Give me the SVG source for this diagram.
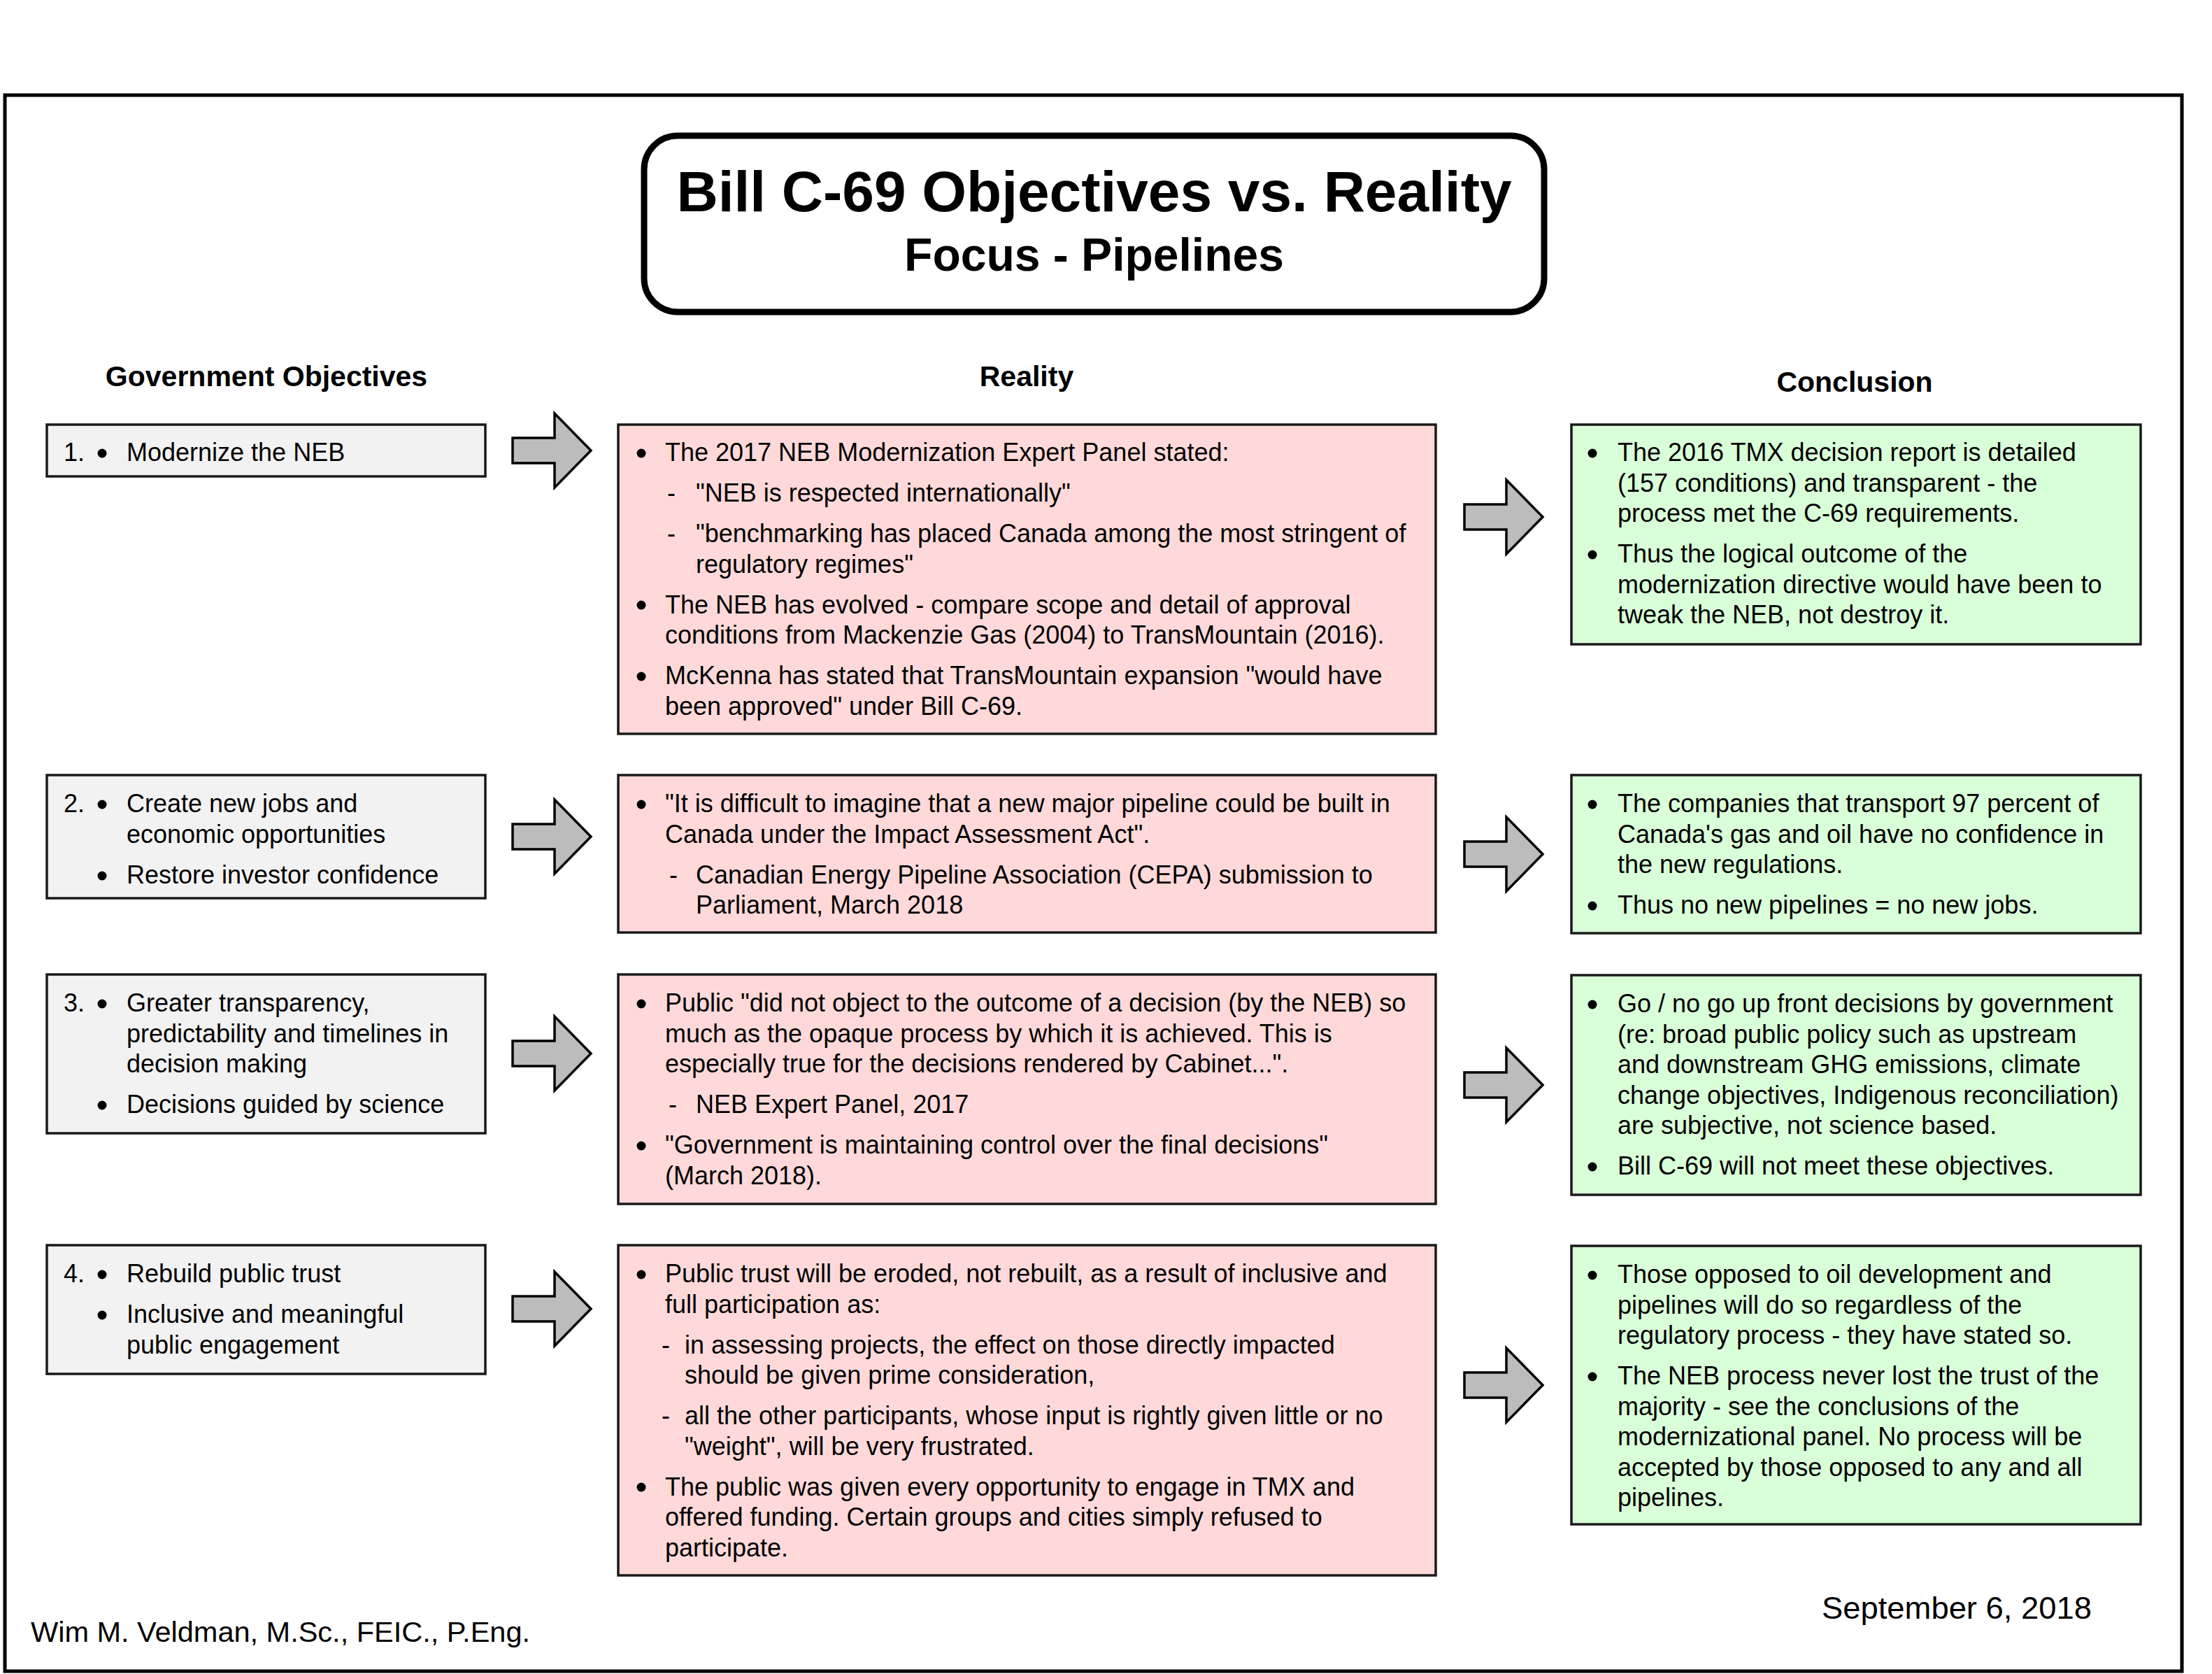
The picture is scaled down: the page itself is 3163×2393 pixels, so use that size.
<svg xmlns="http://www.w3.org/2000/svg" width="3163" height="2393" viewBox="0 0 3163 2393">
<style>
  text { font-family: "Liberation Sans", Arial, sans-serif; fill: #000; }
  .t { font-size: 36px; }
  .h { font-size: 41px; font-weight: bold; text-anchor: middle; }
  .obj { fill: #f2f2f2; stroke: #1a1a1a; stroke-width: 3.5; }
  .real { fill: #ffd9d9; stroke: #1a1a1a; stroke-width: 3.5; }
  .conc { fill: #d9ffd9; stroke: #1a1a1a; stroke-width: 3.5; }
  .arrow { fill: #bcbcbc; stroke: #000; stroke-width: 3.5; stroke-linejoin: miter; }
  .dot { fill: #000; }
</style>
<defs>
  <path id="arr" d="M0,-18 H60 V-53 L112,0 L60,53 V18 H0 Z"/>
</defs>
<rect width="3163" height="2393" fill="#fff"/>
<rect id="frame" x="7" y="136" width="3113" height="2253" fill="none" stroke="#000" stroke-width="5"/>

<g id="title">
  <rect x="921" y="194" width="1287" height="252" rx="48" ry="48" fill="#fff" stroke="#000" stroke-width="9"/>
  <text x="1564.5" y="302" font-size="82" font-weight="bold" text-anchor="middle">Bill C-69 Objectives vs. Reality</text>
  <text x="1564.5" y="387" font-size="66" font-weight="bold" text-anchor="middle">Focus - Pipelines</text>
</g>

<g id="headers">
  <text class="h" x="381" y="552">Government Objectives</text>
  <text class="h" x="1468" y="552">Reality</text>
  <text class="h" x="2652" y="560">Conclusion</text>
</g>

<g id="obj1">
  <rect class="obj" x="67" y="607" width="627" height="74"/>
  <g transform="translate(0,3)">
  <text class="t" x="91" y="656">1.</text>
  <circle class="dot" cx="146" cy="645" r="6.5"/>
  <text class="t" x="181" y="656">Modernize the NEB</text>
  </g>
</g>
<g id="obj2">
  <rect class="obj" x="67" y="1108" width="627" height="176"/>
  <g transform="translate(0,3)">
  <text class="t" x="91" y="1158">2.</text>
  <circle class="dot" cx="146" cy="1147" r="6.5"/>
  <text class="t" x="181" y="1158">Create new jobs and</text>
  <text class="t" x="181" y="1201.5">economic opportunities</text>
  <circle class="dot" cx="146" cy="1249" r="6.5"/>
  <text class="t" x="181" y="1259.5">Restore investor confidence</text>
  </g>
</g>
<g id="obj3">
  <rect class="obj" x="67" y="1393" width="627" height="227"/>
  <g transform="translate(0,3)">
  <text class="t" x="91" y="1443">3.</text>
  <circle class="dot" cx="146" cy="1432" r="6.5"/>
  <text class="t" x="181" y="1443">Greater transparency,</text>
  <text class="t" x="181" y="1486.5">predictability and timelines in</text>
  <text class="t" x="181" y="1530">decision making</text>
  <circle class="dot" cx="146" cy="1577" r="6.5"/>
  <text class="t" x="181" y="1588">Decisions guided by science</text>
  </g>
</g>
<g id="obj4">
  <rect class="obj" x="67" y="1780" width="627" height="184"/>
  <g transform="translate(0,3)">
  <text class="t" x="91" y="1830">4.</text>
  <circle class="dot" cx="146" cy="1819" r="6.5"/>
  <text class="t" x="181" y="1830">Rebuild public trust</text>
  <circle class="dot" cx="146" cy="1877" r="6.5"/>
  <text class="t" x="181" y="1888">Inclusive and meaningful</text>
  <text class="t" x="181" y="1931.5">public engagement</text>
  </g>
</g>

<g id="real1">
  <rect class="real" x="884" y="607" width="1169" height="442"/>
  <g transform="translate(0,3)">
  <circle class="dot" cx="917" cy="645" r="6.5"/>
  <text class="t" x="951" y="656">The 2017 NEB Modernization Expert Panel stated:</text>
  <text class="t" x="954" y="714">-</text>
  <text class="t" x="995" y="714">"NEB is respected internationally"</text>
  <text class="t" x="954" y="772">-</text>
  <text class="t" x="995" y="772">"benchmarking has placed Canada among the most stringent of</text>
  <text class="t" x="995" y="815.5">regulatory regimes"</text>
  <circle class="dot" cx="917" cy="862" r="6.5"/>
  <text class="t" x="951" y="873.5">The NEB has evolved - compare scope and detail of approval</text>
  <text class="t" x="951" y="917">conditions from Mackenzie Gas (2004) to TransMountain (2016).</text>
  <circle class="dot" cx="917" cy="964" r="6.5"/>
  <text class="t" x="951" y="975">McKenna has stated that TransMountain expansion "would have</text>
  <text class="t" x="951" y="1018.5">been approved" under Bill C-69.</text>
  </g>
</g>
<g id="real2">
  <rect class="real" x="884" y="1108" width="1169" height="225"/>
  <g transform="translate(0,3)">
  <circle class="dot" cx="917" cy="1147" r="6.5"/>
  <text class="t" x="951" y="1158">"It is difficult to imagine that a new major pipeline could be built in</text>
  <text class="t" x="951" y="1201.5">Canada under the Impact Assessment Act".</text>
  <text class="t" x="957" y="1259.5">-</text>
  <text class="t" x="995" y="1259.5">Canadian Energy Pipeline Association (CEPA) submission to</text>
  <text class="t" x="995" y="1303">Parliament, March 2018</text>
  </g>
</g>
<g id="real3">
  <rect class="real" x="884" y="1393" width="1169" height="328"/>
  <g transform="translate(0,3)">
  <circle class="dot" cx="917" cy="1432" r="6.5"/>
  <text class="t" x="951" y="1443">Public "did not object to the outcome of a decision (by the NEB) so</text>
  <text class="t" x="951" y="1486.5">much as the opaque process by which it is achieved. This is</text>
  <text class="t" x="951" y="1530">especially true for the decisions rendered by Cabinet...".</text>
  <text class="t" x="956" y="1588">-</text>
  <text class="t" x="995" y="1588">NEB Expert Panel, 2017</text>
  <circle class="dot" cx="917" cy="1635" r="6.5"/>
  <text class="t" x="951" y="1646">"Government is maintaining control over the final decisions"</text>
  <text class="t" x="951" y="1689.5">(March 2018).</text>
  </g>
</g>
<g id="real4">
  <rect class="real" x="884" y="1780" width="1169" height="472"/>
  <g transform="translate(0,3)">
  <circle class="dot" cx="917" cy="1819" r="6.5"/>
  <text class="t" x="951" y="1830">Public trust will be eroded, not rebuilt, as a result of inclusive and</text>
  <text class="t" x="951" y="1873.5">full participation as:</text>
  <text class="t" x="946" y="1931.5">-</text>
  <text class="t" x="979" y="1931.5">in assessing projects, the effect on those directly impacted</text>
  <text class="t" x="979" y="1975">should be given prime consideration,</text>
  <text class="t" x="946" y="2033">-</text>
  <text class="t" x="979" y="2033">all the other participants, whose input is rightly given little or no</text>
  <text class="t" x="979" y="2076.5">"weight", will be very frustrated.</text>
  <circle class="dot" cx="917" cy="2123" r="6.5"/>
  <text class="t" x="951" y="2134.5">The public was given every opportunity to engage in TMX and</text>
  <text class="t" x="951" y="2178">offered funding. Certain groups and cities simply refused to</text>
  <text class="t" x="951" y="2221.5">participate.</text>
  </g>
</g>

<g id="conc1">
  <rect class="conc" x="2247" y="607" width="814" height="314"/>
  <g transform="translate(0,3)">
  <circle class="dot" cx="2277" cy="645" r="6.5"/>
  <text class="t" x="2313" y="656">The 2016 TMX decision report is detailed</text>
  <text class="t" x="2313" y="699.5">(157 conditions) and transparent - the</text>
  <text class="t" x="2313" y="743">process met the C-69 requirements.</text>
  <circle class="dot" cx="2277" cy="790" r="6.5"/>
  <text class="t" x="2313" y="801">Thus the logical outcome of the</text>
  <text class="t" x="2313" y="844.5">modernization directive would have been to</text>
  <text class="t" x="2313" y="888">tweak the NEB, not destroy it.</text>
  </g>
</g>
<g id="conc2">
  <rect class="conc" x="2247" y="1108" width="814" height="226"/>
  <g transform="translate(0,3)">
  <circle class="dot" cx="2277" cy="1147" r="6.5"/>
  <text class="t" x="2313" y="1158">The companies that transport 97 percent of</text>
  <text class="t" x="2313" y="1201.5">Canada's gas and oil have no confidence in</text>
  <text class="t" x="2313" y="1245">the new regulations.</text>
  <circle class="dot" cx="2277" cy="1292" r="6.5"/>
  <text class="t" x="2313" y="1303">Thus no new pipelines = no new jobs.</text>
  </g>
</g>
<g id="conc3">
  <rect class="conc" x="2247" y="1394" width="814" height="314"/>
  <g transform="translate(0,3)">
  <circle class="dot" cx="2277" cy="1433" r="6.5"/>
  <text class="t" x="2313" y="1444">Go / no go up front decisions by government</text>
  <text class="t" x="2313" y="1487.5">(re: broad public policy such as upstream</text>
  <text class="t" x="2313" y="1531">and downstream GHG emissions, climate</text>
  <text class="t" x="2313" y="1574.5">change objectives, Indigenous reconciliation)</text>
  <text class="t" x="2313" y="1618">are subjective, not science based.</text>
  <circle class="dot" cx="2277" cy="1665" r="6.5"/>
  <text class="t" x="2313" y="1676">Bill C-69 will not meet these objectives.</text>
  </g>
</g>
<g id="conc4">
  <rect class="conc" x="2247" y="1781" width="814" height="398"/>
  <g transform="translate(0,3)">
  <circle class="dot" cx="2277" cy="1820" r="6.5"/>
  <text class="t" x="2313" y="1831">Those opposed to oil development and</text>
  <text class="t" x="2313" y="1874.5">pipelines will do so regardless of the</text>
  <text class="t" x="2313" y="1918">regulatory process - they have stated so.</text>
  <circle class="dot" cx="2277" cy="1965" r="6.5"/>
  <text class="t" x="2313" y="1976">The NEB process never lost the trust of the</text>
  <text class="t" x="2313" y="2019.5">majority - see the conclusions of the</text>
  <text class="t" x="2313" y="2063">modernizational panel. No process will be</text>
  <text class="t" x="2313" y="2106.5">accepted by those opposed to any and all</text>
  <text class="t" x="2313" y="2150">pipelines.</text>
  </g>
</g>

<g id="connectors">
  <use href="#arr" class="arrow" transform="translate(733,644)"/>
  <use href="#arr" class="arrow" transform="translate(733,1196)"/>
  <use href="#arr" class="arrow" transform="translate(733,1506)"/>
  <use href="#arr" class="arrow" transform="translate(733,1871)"/>
  <use href="#arr" class="arrow" transform="translate(2094,739)"/>
  <use href="#arr" class="arrow" transform="translate(2094,1221)"/>
  <use href="#arr" class="arrow" transform="translate(2094,1551)"/>
  <use href="#arr" class="arrow" transform="translate(2094,1980)"/>
</g>

<g id="footer">
  <text x="44" y="2347" font-size="41.5" textLength="714" lengthAdjust="spacingAndGlyphs">Wim M. Veldman, M.Sc., FEIC., P.Eng.</text>
  <text x="2605" y="2314" font-size="44" font-family="Lato, 'Open Sans', sans-serif" textLength="386" lengthAdjust="spacingAndGlyphs">September 6, 2018</text>
</g>
</svg>
